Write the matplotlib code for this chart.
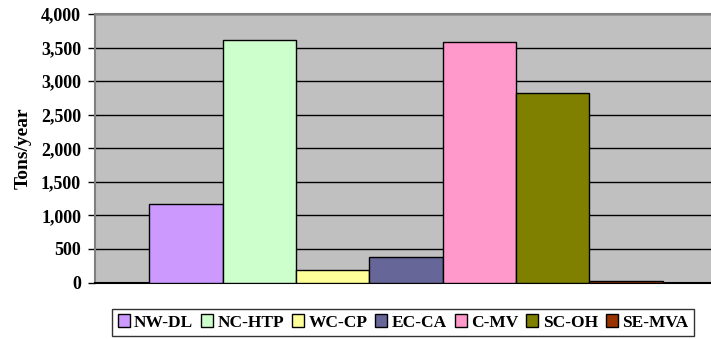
import matplotlib
matplotlib.use("Agg")
import matplotlib.pyplot as plt
from matplotlib.ticker import FuncFormatter, MultipleLocator

plt.rcParams['font.family'] = ['Liberation Serif', 'DejaVu Serif']
plt.rcParams['font.weight'] = 'bold'

# Annual emissions by monitoring region
regions = ["NW-DL", "NC-HTP", "WC-CP", "EC-CA", "C-MV", "SC-OH", "SE-MVA"]
tons_per_year = [1170, 3610, 180, 380, 3580, 2820, 25]
colors = ["#CC99FF", "#CCFFCC", "#FFFF99", "#666699", "#FF99CC", "#808000", "#993300"]

fig = plt.figure(figsize=(7.11, 3.39), dpi=100)
ax = fig.add_axes([95 / 711, 1 - 282.5 / 339, 1 - 95 / 711, (282.5 - 14) / 339])
ax.set_facecolor("#C0C0C0")

positions = list(range(len(regions)))
ax.bar(positions, tons_per_year, width=1.0, color=colors,
       edgecolor="black", linewidth=1.0, zorder=3)

ax.set_ylim(0, 4000)
ax.set_xlim(-1.24, 7.16)
ax.yaxis.set_major_locator(MultipleLocator(500))
ax.yaxis.set_major_formatter(FuncFormatter(lambda v, p: f"{int(v):,}"))
ax.grid(axis="y", color="black", linewidth=1.0, zorder=1)
ax.set_axisbelow(True)
ax.set_xticks([])

for side in ("top", "left", "right"):
    ax.spines[side].set_color("#808080")
    ax.spines[side].set_linewidth(1.5)
ax.spines["right"].set_visible(False)
ax.spines["bottom"].set_color("black")
ax.spines["bottom"].set_linewidth(1.5)

ax.tick_params(axis="y", direction="out", length=5, width=1, color="black",
               pad=5, labelsize=13)
for lbl in ax.get_yticklabels():
    lbl.set_fontweight("bold")

ax.set_ylabel("Tons/year", fontsize=14, fontweight="bold", labelpad=7)

handles = [plt.Rectangle((0, 0), 1, 1, facecolor=c, edgecolor="black", linewidth=1.0)
           for c in colors]
leg = fig.legend(handles, regions, loc="center",
                 bbox_to_anchor=(403 / 711, 1 - 322.5 / 339),
                 ncol=len(regions), fontsize=12.5, frameon=True, fancybox=False,
                 shadow=False, handlelength=0.7, handleheight=0.7,
                 handletextpad=0.25, columnspacing=0.45, borderpad=0.3,
                 borderaxespad=0)
leg.get_frame().set_edgecolor("black")
leg.get_frame().set_linewidth(1.0)
for t in leg.get_texts():
    t.set_fontweight("bold")

fig.savefig("out.png", dpi=100, facecolor="white")
